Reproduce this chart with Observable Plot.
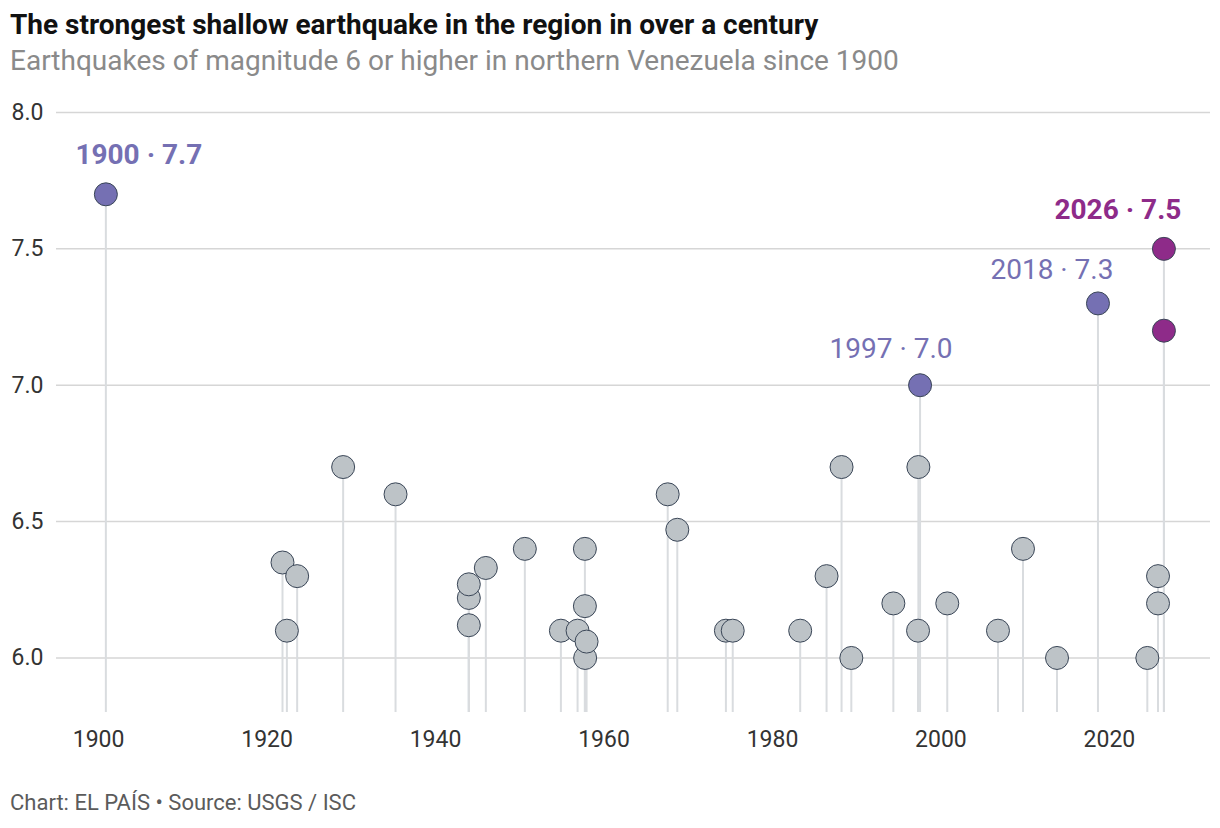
<!DOCTYPE html>
<html>
<head>
<meta charset="utf-8">
<script src="https://cdn.jsdelivr.net/npm/d3@7"></script>
<script src="https://cdn.jsdelivr.net/npm/@observablehq/plot@0.6"></script>
<style>
  html, body { margin: 0; padding: 0; background: #fff; }
  body { width: 1220px; height: 828px; position: relative; font-family: Roboto, "Noto Sans", sans-serif; }
  .title { position: absolute; left: 10px; top: 8px; font-size: 28px; line-height: 34px; font-weight: 700; color: #111; white-space: nowrap; }
  .subtitle { position: absolute; left: 10px; top: 44px; font-size: 28px; line-height: 34px; font-weight: 400; color: #8a8a8a; white-space: nowrap; }
  #chart { position: absolute; left: 0; top: 90px; }
  .footer { position: absolute; left: 10px; top: 789px; font-size: 22px; line-height: 28px; color: #5b5b5b; white-space: nowrap; }
</style>
</head>
<body>
<div class="title">The strongest shallow earthquake in the region in over a century</div>
<div class="subtitle">Earthquakes of magnitude 6 or higher in northern Venezuela since 1900</div>
<div id="chart"></div>
<div class="footer">Chart: EL PAÍS • Source: USGS / ISC</div>
<script>
// Event dates as decimal years, magnitudes, and which group each event belongs to
const years = [
  1900.86, 1921.83, 1922.35, 1923.57, 1929.03, 1935.25,
  1943.95, 1943.95, 1943.95, 1945.97, 1950.60, 1954.88,
  1956.86, 1957.76, 1957.73, 1957.73, 1957.93, 1967.56,
  1968.70, 1974.47, 1975.28, 1983.29, 1986.42, 1988.20,
  1989.36, 1994.35, 1997.28, 1997.32, 1997.52, 2000.75,
  2006.77, 2009.74, 2013.78, 2018.64, 2024.50, 2025.77,
  2025.77, 2026.47, 2026.47
];
const magnitudes = [
  7.7, 6.35, 6.1, 6.3, 6.7, 6.6,
  6.12, 6.22, 6.27, 6.33, 6.4, 6.1,
  6.1, 6.0, 6.19, 6.4, 6.06, 6.6,
  6.47, 6.1, 6.1, 6.1, 6.3, 6.7,
  6.0, 6.2, 6.1, 6.7, 7.0, 6.2,
  6.1, 6.4, 6.0, 7.3, 6.0, 6.2,
  6.3, 7.2, 7.5
];
const groups = [
  "major", "other", "other", "other", "other", "other",
  "other", "other", "other", "other", "other", "other",
  "other", "other", "other", "other", "other", "other",
  "other", "other", "other", "other", "other", "other",
  "other", "other", "other", "other", "major", "other",
  "other", "other", "other", "major", "other", "other",
  "other", "latest", "latest"
];
// Events that get an annotation (indices into the arrays above)
const labelled = [0, 28, 33, 38];

const xTicks = [1900, 1920, 1940, 1960, 1980, 2000, 2020];
const yTicks = [6.0, 6.5, 7.0, 7.5, 8.0];

const quakes = years.map((year, i) => ({year, mag: magnitudes[i], group: groups[i]}));

const fills = {other: "#bdc3c7", major: "#7570b3", latest: "#8e2b89"};

// Annotation placement and weight for each labelled event
const labelStyle = {
  0:  {dx: 33,  dy: -39, weight: 700},
  28: {dx: -29, dy: -36, weight: 400},
  33: {dx: -46, dy: -33, weight: 400},
  38: {dx: -46, dy: -39, weight: 700}
};

const labelMarks = labelled.map(i => {
  const d = quakes[i];
  const s = labelStyle[i];
  return Plot.text([d], {
    x: "year",
    y: "mag",
    text: q => `${Math.floor(q.year)} · ${q.mag.toFixed(1)}`,
    dx: s.dx,
    dy: s.dy,
    fill: fills[d.group],
    fontWeight: s.weight,
    fontSize: 28,
    textAnchor: "middle",
    lineAnchor: "middle"
  });
});

const chart = Plot.plot({
  width: 1220,
  height: 680,
  marginLeft: 56,
  marginRight: 10,
  marginTop: 22,
  marginBottom: 58,
  style: {fontFamily: "Roboto, 'Noto Sans', sans-serif", fontSize: "23px", color: "#333", background: "transparent"},
  x: {domain: [1895, 2032]},
  y: {domain: [5.8, 8.0]},
  marks: [
    Plot.gridY(yTicks, {stroke: "#d6d6d6", strokeOpacity: 1, strokeWidth: 1.5}),
    Plot.axisY(yTicks, {tickSize: 0, tickPadding: 13, tickFormat: ".1f", label: null, fill: "#333"}),
    Plot.axisX(xTicks, {tickSize: 0, tickPadding: 18, tickFormat: "d", label: null, fill: "#333"}),
    Plot.ruleX(quakes, {x: "year", y1: 5.8, y2: "mag", stroke: "#d9dcdf", strokeWidth: 2}),
    Plot.dot(quakes, {x: "year", y: "mag", r: 11.5, fill: d => fills[d.group], stroke: "#3a4657", strokeWidth: 1}),
    ...labelMarks
  ]
});

document.getElementById("chart").appendChild(chart);
</script>
</body>
</html>
